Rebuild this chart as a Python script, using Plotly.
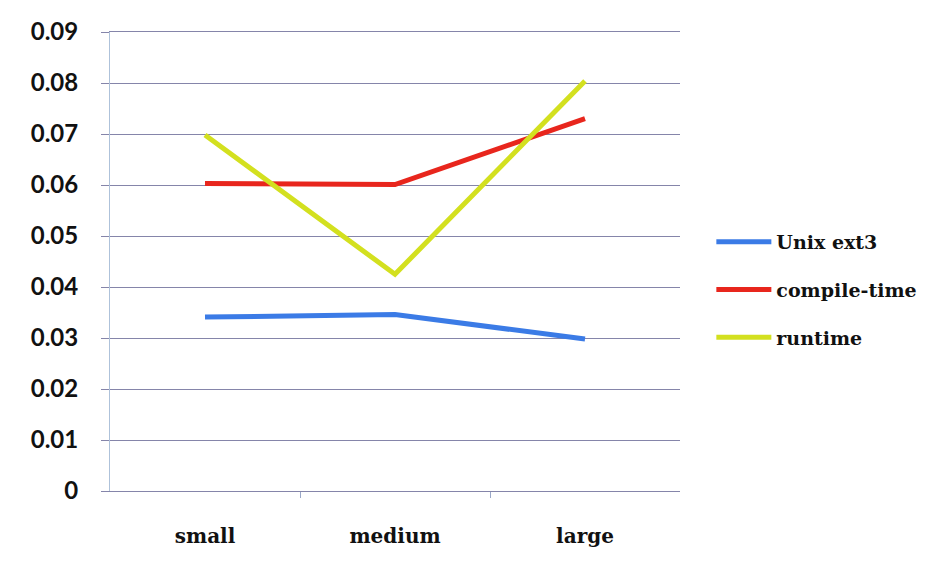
import plotly.graph_objects as go

categories = ["small", "medium", "large"]
unix_ext3 = [0.0341, 0.0346, 0.0298]
compile_time = [0.0603, 0.0601, 0.0730]
runtime = [0.0698, 0.0425, 0.0804]
y_ticks = [0, 0.01, 0.02, 0.03, 0.04, 0.05, 0.06, 0.07, 0.08, 0.09]
y_tick_labels = ["0", "0.01", "0.02", "0.03", "0.04", "0.05", "0.06", "0.07", "0.08", "0.09"]

series = [
    ("Unix ext3", unix_ext3, "#3b7be6"),
    ("compile-time", compile_time, "#e8261d"),
    ("runtime", runtime, "#d3e01f"),
]

x_pos = list(range(len(categories)))

fig = go.Figure()
for i, (name, vals, color) in enumerate(series):
    fig.add_trace(go.Scatter(
        x=x_pos, y=vals, name=name, mode="lines",
        line=dict(color=color, width=5),
        legendgroup=f"g{i}",
    ))

grid_color = "#8585aa"

fig.update_layout(
    width=944, height=573,
    margin=dict(l=110, r=264, t=32, b=82),
    paper_bgcolor="white", plot_bgcolor="white",
    showlegend=True,
    legend=dict(
        x=1.055, y=0.438, xanchor="left", yanchor="middle",
        font=dict(family="DejaVu Serif", size=19, color="#111111", weight="bold"),
        tracegroupgap=20, itemwidth=55, bgcolor="rgba(0,0,0,0)",
    ),
    xaxis=dict(
        range=[-0.5, 2.5],
        tickvals=x_pos, ticktext=categories,
        ticks="", showgrid=False, zeroline=False,
        showline=True, mirror=True, linecolor=grid_color, linewidth=1,
        tickfont=dict(family="DejaVu Serif", size=20, color="#111111", weight="bold"),
        ticklabelstandoff=27,
        minor=dict(tickvals=[0.5, 1.5], ticks="outside", ticklen=6,
                   tickcolor="#9aa8c8", tickwidth=1),
    ),
    yaxis=dict(
        range=[0, 0.09],
        tickvals=y_ticks, ticktext=y_tick_labels,
        ticks="outside", ticklen=8, tickcolor=grid_color,
        showgrid=True, gridcolor=grid_color, gridwidth=1,
        zeroline=False,
        showline=True, linecolor="#aec2da", linewidth=1,
        tickfont=dict(family="Lato", size=24, color="#111111", weight="bold"),
        ticklabelstandoff=18,
    ),
)

fig.write_html("out.html")
